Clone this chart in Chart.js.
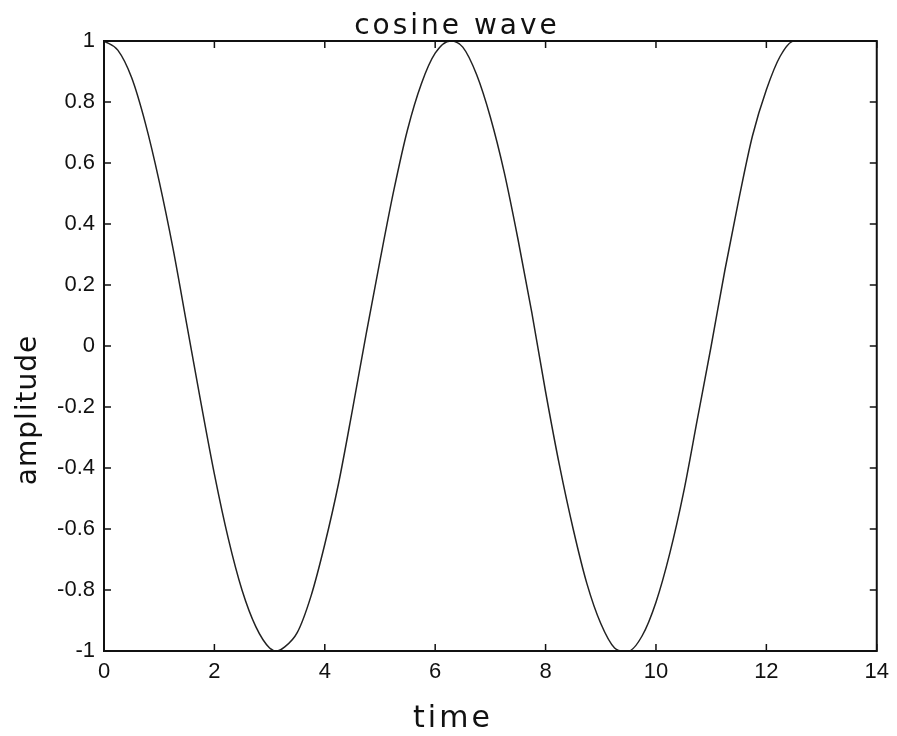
<!DOCTYPE html>
<html>
<head>
<meta charset="utf-8">
<title>cosine wave</title>
<script src="https://cdn.jsdelivr.net/npm/chart.js@4.4.1/dist/chart.umd.min.js"></script>
<style>
  html, body { margin: 0; padding: 0; background: #fff; }
  #wrap { width: 897px; height: 736px; }
</style>
</head>
<body>
<div id="wrap"><canvas id="chart" width="897" height="736"></canvas></div>
<script>
// values
const times = [0, 0.25, 0.5, 0.75, 1, 1.25, 1.5, 1.75, 2, 2.25, 2.5, 2.75, 3, 3.14, 3.25, 3.5, 3.75,
    4, 4.25, 4.5, 4.75, 5, 5.25, 5.5, 5.75, 6, 6.28, 6.5, 6.75, 7, 7.25, 7.5, 7.75,
    8, 8.25, 8.5, 8.75, 9, 9.25, 9.42, 9.5, 9.75, 10, 10.25, 10.5, 10.75,
    11, 11.25, 11.5, 11.75, 12, 12.25, 12.5, 12.57];
const amplitude = [1.00, 0.97, 0.88, 0.73, 0.54, 0.32, 0.07, -0.18, -0.42, -0.63, -0.80, -0.92, -0.99, -1.00, -0.99, -0.94, -0.82,
    -0.65, -0.45, -0.21, 0.04, 0.28, 0.51, 0.71, 0.86, 0.96, 1.00, 0.98, 0.89, 0.75, 0.57, 0.35, 0.11,
    -0.15, -0.39, -0.60, -0.78, -0.91, -0.99, -1.00, -1.00, -0.95, -0.84, -0.68, -0.48, -0.24,
    0.00, 0.25, 0.48, 0.69, 0.84, 0.95, 1.00, 1.00];
const xTicks = [0, 2, 4, 6, 8, 10, 12, 14];
const yTicks = [-1, -0.8, -0.6, -0.4, -0.2, 0, 0.2, 0.4, 0.6, 0.8, 1];
const chartTitle = 'cosine wave';
const xTitle = 'time';
const yTitle = 'amplitude';

const ink = '#111';
const handFont = '"DejaVu Sans", sans-serif';

// box round the plot, inward ticks on all four sides, hand-written labels
const framePlugin = {
    id: 'frame',
    afterDraw(chart) {
        const ctx = chart.ctx;
        const a = chart.chartArea;
        const xs = chart.scales.x;
        const ys = chart.scales.y;
        const tl = 7;
        ctx.save();
        ctx.strokeStyle = ink;
        ctx.lineWidth = 2;
        ctx.strokeRect(a.left, a.top, a.right - a.left, a.bottom - a.top);
        ctx.lineWidth = 1.5;
        ctx.beginPath();
        xTicks.forEach(v => {
            const px = xs.getPixelForValue(v);
            ctx.moveTo(px, a.bottom); ctx.lineTo(px, a.bottom - tl);
            ctx.moveTo(px, a.top); ctx.lineTo(px, a.top + tl);
        });
        yTicks.forEach(v => {
            const py = ys.getPixelForValue(v);
            ctx.moveTo(a.left, py); ctx.lineTo(a.left + tl, py);
            ctx.moveTo(a.right, py); ctx.lineTo(a.right - tl, py);
        });
        ctx.stroke();

        ctx.fillStyle = ink;
        ctx.textAlign = 'center';
        ctx.textBaseline = 'alphabetic';
        ctx.font = '28px ' + handFont;
        ctx.letterSpacing = '3px';
        ctx.fillText(chartTitle, 457, 34);

        ctx.font = '30px ' + handFont;
        ctx.fillText(xTitle, 453, 727);

        ctx.translate(36, 410);
        ctx.rotate(-Math.PI / 2);
        ctx.font = '28px ' + handFont;
        ctx.letterSpacing = '1px';
        ctx.fillText(yTitle, 0, 0);
        ctx.restore();
    }
};

const tickFont = { family: '"Liberation Sans", Arial, sans-serif', size: 22 };

new Chart(document.getElementById('chart'), {
    type: 'scatter',
    data: {
        datasets: [{
            data: times.map((t, i) => ({ x: t, y: amplitude[i] })),
            showLine: true,
            borderColor: '#222',
            borderWidth: 1.5,
            pointRadius: 0,
            cubicInterpolationMode: 'monotone',
            fill: false
        }]
    },
    options: {
        responsive: false,
        animation: false,
        devicePixelRatio: 1,
        layout: { padding: { top: 41, right: 17, left: 0, bottom: 0 } },
        plugins: {
            legend: { display: false },
            title: { display: false },
            tooltip: { enabled: false }
        },
        scales: {
            x: {
                type: 'linear',
                min: 0,
                max: 14,
                grid: { display: false, drawTicks: false },
                border: { display: false },
                afterBuildTicks: s => { s.ticks = xTicks.map(v => ({ value: v })); },
                afterFit: s => { s.height = 85; },
                ticks: { font: tickFont, color: ink, padding: 8, maxRotation: 0,
                         callback: v => String(v) }
            },
            y: {
                type: 'linear',
                min: -1,
                max: 1,
                grid: { display: false, drawTicks: false },
                border: { display: false },
                afterBuildTicks: s => { s.ticks = yTicks.map(v => ({ value: v })); },
                afterFit: s => { s.width = 104; },
                ticks: { font: tickFont, color: ink, padding: 9,
                         callback: v => String(Math.round(v * 10) / 10) }
            }
        }
    },
    plugins: [framePlugin]
});
</script>
</body>
</html>
